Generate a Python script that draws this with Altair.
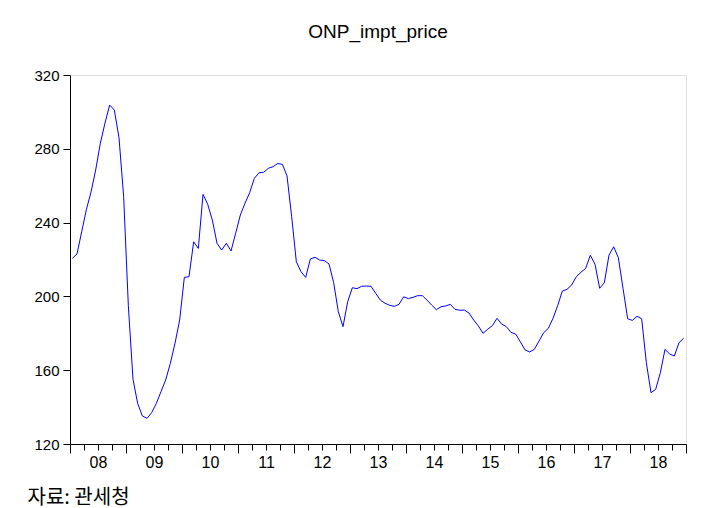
import altair as alt
import pandas as pd

start_year = 2008
end_year = 2019

# Monthly ONP import price, Jan 2008 - Dec 2018
values = [
    220.6, 223.0, 235.0, 247.0, 256.5, 268.5, 283.0, 294.0, 303.7, 301.0, 286.0, 254.0,
    195.0, 155.0, 142.0, 135.2, 133.9, 137.0, 142.0, 148.4, 154.7, 163.7, 174.6, 187.2,
    210.3, 210.7, 229.6, 226.0, 255.3, 250.0, 241.4, 228.8, 225.1, 228.8, 224.6, 234.2,
    244.1, 250.5, 256.2, 264.0, 267.0, 267.3, 269.4, 270.3, 272.0, 271.6, 265.3, 243.2,
    218.8, 213.4, 210.3, 220.3, 221.2, 219.7, 219.4, 217.6, 207.4, 191.7, 183.6, 197.1,
    204.7, 204.2, 205.5, 205.6, 205.5, 201.7, 198.0, 196.3, 195.2, 194.6, 195.7, 199.8,
    198.8, 199.5, 200.4, 200.4, 198.0, 195.3, 192.8, 194.4, 194.8, 195.7, 193.0, 192.5,
    192.6, 191.0, 187.2, 184.0, 180.0, 182.2, 184.1, 188.1, 185.0, 183.6, 180.5, 179.6,
    175.4, 171.0, 169.9, 171.3, 175.8, 180.3, 182.7, 188.1, 195.0, 202.9, 203.8, 206.2,
    210.7, 213.1, 215.2, 222.3, 217.4, 204.4, 207.4, 222.4, 226.9, 221.0, 204.4, 187.9,
    187.0, 189.2, 187.9, 164.1, 147.8, 149.6, 158.6, 171.3, 168.8, 167.7, 174.9, 177.3,
]

y_ticks = [120, 160, 200, 240, 280, 320]
title_text = "ONP_impt_price"
source_text = "자료: 관세청"

df = pd.DataFrame({
    "t": [start_year + (i + 0.5) / 12 for i in range(len(values))],
    "v": values,
})

quarter_ticks = [start_year + q / 4 for q in range((end_year - start_year) * 4 + 1)]

x_axis = alt.Axis(
    values=quarter_ticks,
    tickSize={"condition": {"test": "datum.value % 1 === 0", "value": 9}, "value": 6},
    labelExpr="datum.value % 1 === 0.5 ? substring(toString(floor(datum.value)), 2) : ''",
    labelFont="Liberation Sans",
    labelFontSize=16,
    labelColor="black",
    labelPadding=4,
    labelFlush=False,
    labelOverlap=False,
    domainColor="black",
    tickColor="black",
    grid=False,
    title=source_text,
    titleFont="Noto Sans CJK KR",
    titleFontSize=20,
    titleFontWeight="normal",
    titleColor="black",
    titleX=-43,
    titleY=53,
    titleAlign="left",
    titleBaseline="middle",
)

y_axis = alt.Axis(
    values=y_ticks,
    tickSize=7,
    labelFont="Liberation Sans",
    labelFontSize=15,
    labelColor="black",
    labelPadding=4,
    domainColor="black",
    tickColor="black",
    grid=False,
    title=None,
)

chart = (
    alt.Chart(df)
    .mark_line(color="#0000FF", strokeWidth=1)
    .encode(
        x=alt.X("t:Q", scale=alt.Scale(domain=[start_year, end_year], nice=False, zero=False), axis=x_axis),
        y=alt.Y("v:Q", scale=alt.Scale(domain=[120, 320], nice=False, zero=False), axis=y_axis),
    )
    .properties(
        width=616,
        height=369,
        title=alt.TitleParams(
            title_text,
            font="Liberation Sans",
            fontSize=19,
            fontWeight="normal",
            color="black",
            anchor="middle",
            offset=26,
        ),
        autosize=alt.AutoSizeParams(type="none"),
        padding={"left": 70, "top": 75, "right": 33, "bottom": 64},
    )
    .configure_view(stroke="black", strokeWidth=1)
    .configure(background="white")
)

chart.save("out.html", embed_options={"renderer": "svg", "actions": False})
